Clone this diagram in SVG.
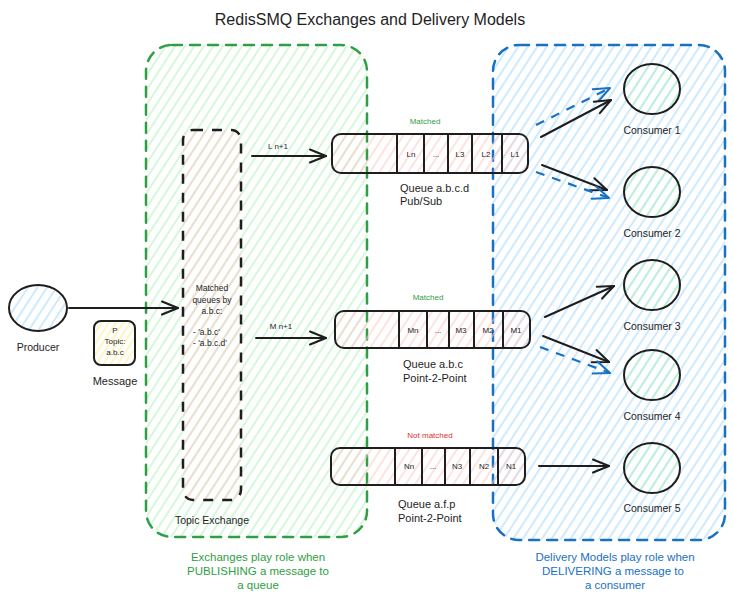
<svg xmlns="http://www.w3.org/2000/svg" width="734" height="601" viewBox="0 0 734 601">
<defs>
<pattern id="hg" width="8" height="8" patternUnits="userSpaceOnUse" patternTransform="rotate(33)"><line x1="4" y1="0" x2="4" y2="8" stroke="#b2f2bb" stroke-width="1.1"/></pattern>
<pattern id="hb" width="8" height="8" patternUnits="userSpaceOnUse" patternTransform="rotate(33)"><line x1="4" y1="0" x2="4" y2="8" stroke="#a5d8ff" stroke-width="1.1"/></pattern>
<pattern id="hr" width="8" height="8" patternUnits="userSpaceOnUse" patternTransform="rotate(33)"><line x1="4" y1="0" x2="4" y2="8" stroke="#ffc9c9" stroke-width="1.1"/></pattern>
<pattern id="hy" width="6" height="6" patternUnits="userSpaceOnUse" patternTransform="rotate(33)"><line x1="3" y1="0" x2="3" y2="6" stroke="#ffec99" stroke-width="1.2"/></pattern>
<marker id="ak" markerUnits="userSpaceOnUse" markerWidth="20" markerHeight="16" refX="17" refY="8" orient="auto" overflow="visible"><path d="M1,1.5 L17,8 L1,14.5" fill="none" stroke="#1e1e1e" stroke-width="2" stroke-linecap="round" stroke-linejoin="round"/></marker>
<marker id="ab" markerUnits="userSpaceOnUse" markerWidth="20" markerHeight="16" refX="17" refY="8" orient="auto" overflow="visible"><path d="M1,1.5 L17,8 L1,14.5" fill="none" stroke="#1971c2" stroke-width="2" stroke-linecap="round" stroke-linejoin="round"/></marker>
</defs>
<style>
text{font-family:"Liberation Sans",Arial,sans-serif;fill:#1e1e1e;text-anchor:middle}
.t{font-size:16px}
.region{stroke-width:2.5;stroke-dasharray:10 8;stroke-linecap:round}
.q{fill:url(#hr);stroke:#1e1e1e;stroke-width:2}
.div{stroke:#1e1e1e;stroke-width:2}
.cell{font-size:8px}
.lbl{font-size:11px}
.tag{font-size:8.5px}
.cons{fill:url(#hg);stroke:#1e1e1e;stroke-width:2}
.cl{font-size:10.5px}
.conn{fill:none;stroke:#1e1e1e;stroke-width:2;stroke-linecap:round;marker-end:url(#ak)}
.connb{fill:none;stroke:#1971c2;stroke-width:2.2;stroke-dasharray:9 8;marker-end:url(#ab)}
.green{fill:#2f9e44}
.blue{fill:#1971c2}
.red{fill:#e03131}
.note{font-size:11.5px}
</style>

<text class="t" x="370" y="25">RedisSMQ Exchanges and Delivery Models</text>

<g id="exchanges-region">
<rect x="146" y="45" width="221" height="492" rx="26" fill="url(#hg)" stroke="#2f9e44" class="region"/>
</g>
<g id="delivery-region">
<rect x="493" y="45" width="232" height="495" rx="26" fill="url(#hb)" stroke="#1971c2" class="region"/>
</g>

<g id="topic-exchange">
<rect x="183" y="130" width="58" height="370" rx="10" fill="url(#hr)" stroke="#1e1e1e" stroke-width="2.5" stroke-dasharray="10 9"/>
<text class="tag" x="212" y="291">Matched</text>
<text class="tag" x="212" y="303">queues by</text>
<text class="tag" x="212" y="314">a.b.c:</text>
<text class="tag" x="193" y="335" style="text-anchor:start">-  'a.b.c'</text>
<text class="tag" x="193" y="346" style="text-anchor:start">-  'a.b.c.d'</text>
<text class="cl" x="212" y="524">Topic Exchange</text>
</g>

<g id="producer">
<ellipse cx="38" cy="308" rx="29" ry="23" fill="url(#hb)" stroke="#1e1e1e" stroke-width="2"/>
<text class="cl" x="38" y="351">Producer</text>
</g>

<g id="message">
<rect x="94" y="321" width="41" height="44" rx="7" fill="url(#hy)" stroke="#1e1e1e" stroke-width="2"/>
<text class="cell" x="115" y="333">P</text>
<text class="cell" x="115" y="344">Topic:</text>
<text class="cell" x="115" y="355">a.b.c</text>
<text class="lbl" x="115" y="385">Message</text>
</g>

<g id="queue-abcd">
<rect x="332" y="134" width="196" height="39" rx="9" class="q"/>
<line x1="397" y1="134" x2="397" y2="173" class="div"/>
<line x1="424" y1="134" x2="424" y2="173" class="div"/>
<line x1="448" y1="134" x2="448" y2="173" class="div"/>
<line x1="472" y1="134" x2="472" y2="173" class="div"/>
<line x1="502" y1="134" x2="502" y2="173" class="div"/>
<text class="cell" x="411" y="157">Ln</text>
<text class="cell" x="436" y="157">...</text>
<text class="cell" x="460" y="157">L3</text>
<text class="cell" x="486" y="157">L2</text>
<text class="cell" x="515" y="157">L1</text>
<text class="cell green" x="425" y="124">Matched</text>
<text class="lbl" x="400" y="192" style="text-anchor:start">Queue a.b.c.d</text>
<text class="lbl" x="400" y="205" style="text-anchor:start">Pub/Sub</text>
</g>

<g id="queue-abc">
<rect x="335" y="311" width="195" height="37" rx="9" class="q"/>
<line x1="399" y1="311" x2="399" y2="348" class="div"/>
<line x1="427" y1="311" x2="427" y2="348" class="div"/>
<line x1="449" y1="311" x2="449" y2="348" class="div"/>
<line x1="474" y1="311" x2="474" y2="348" class="div"/>
<line x1="503" y1="311" x2="503" y2="348" class="div"/>
<text class="cell" x="413" y="333">Mn</text>
<text class="cell" x="438" y="333">...</text>
<text class="cell" x="461" y="333">M3</text>
<text class="cell" x="488" y="333">M2</text>
<text class="cell" x="516" y="333">M1</text>
<text class="cell green" x="428" y="300">Matched</text>
<text class="lbl" x="403" y="368" style="text-anchor:start">Queue a.b.c</text>
<text class="lbl" x="403" y="382" style="text-anchor:start">Point-2-Point</text>
</g>

<g id="queue-afp">
<rect x="331" y="448" width="194" height="37" rx="9" class="q"/>
<line x1="395" y1="448" x2="395" y2="485" class="div"/>
<line x1="422" y1="448" x2="422" y2="485" class="div"/>
<line x1="445" y1="448" x2="445" y2="485" class="div"/>
<line x1="470" y1="448" x2="470" y2="485" class="div"/>
<line x1="498" y1="448" x2="498" y2="485" class="div"/>
<text class="cell" x="409" y="469">Nn</text>
<text class="cell" x="433" y="469">...</text>
<text class="cell" x="457" y="469">N3</text>
<text class="cell" x="484" y="469">N2</text>
<text class="cell" x="511" y="469">N1</text>
<text class="cell red" x="430" y="438">Not matched</text>
<text class="lbl" x="398" y="508" style="text-anchor:start">Queue a.f.p</text>
<text class="lbl" x="398" y="522" style="text-anchor:start">Point-2-Point</text>
</g>

<g id="consumer-1"><ellipse cx="652" cy="89" rx="28" ry="25" class="cons"/><text class="cl" x="652" y="134">Consumer 1</text></g>
<g id="consumer-2"><ellipse cx="652" cy="192" rx="28" ry="25" class="cons"/><text class="cl" x="652" y="237">Consumer 2</text></g>
<g id="consumer-3"><ellipse cx="652" cy="285" rx="28" ry="25" class="cons"/><text class="cl" x="652" y="330">Consumer 3</text></g>
<g id="consumer-4"><ellipse cx="652" cy="375" rx="28" ry="25" class="cons"/><text class="cl" x="652" y="420">Consumer 4</text></g>
<g id="consumer-5"><ellipse cx="652" cy="468" rx="28" ry="25" class="cons"/><text class="cl" x="652" y="512">Consumer 5</text></g>

<g id="connectors">
<line x1="69" y1="308" x2="178" y2="308" class="conn"/>
<line x1="252" y1="156" x2="326" y2="156" class="conn"/>
<text class="cell" x="278" y="149">L  n+1</text>
<line x1="256" y1="338" x2="326" y2="338" class="conn"/>
<text class="cell" x="281" y="329">M  n+1</text>
<line x1="536" y1="125" x2="610" y2="88" class="connb"/>
<line x1="541" y1="137" x2="611" y2="100" class="conn"/>
<line x1="542" y1="165" x2="607" y2="190" class="conn"/>
<line x1="536" y1="172" x2="609" y2="198" class="connb"/>
<line x1="545" y1="317" x2="614" y2="286" class="conn"/>
<line x1="543" y1="336" x2="609" y2="362" class="conn"/>
<line x1="540" y1="347" x2="610" y2="373" class="connb"/>
<line x1="539" y1="466" x2="609" y2="466" class="conn"/>
</g>

<g id="notes">
<text class="note green" x="258" y="561">Exchanges play role when</text>
<text class="note green" x="258" y="575">PUBLISHING a message to</text>
<text class="note green" x="258" y="589">a queue</text>
<text class="note blue" x="615" y="561">Delivery Models play role when</text>
<text class="note blue" x="613" y="575">DELIVERING a message to</text>
<text class="note blue" x="615" y="589">a consumer</text>
</g>
</svg>
